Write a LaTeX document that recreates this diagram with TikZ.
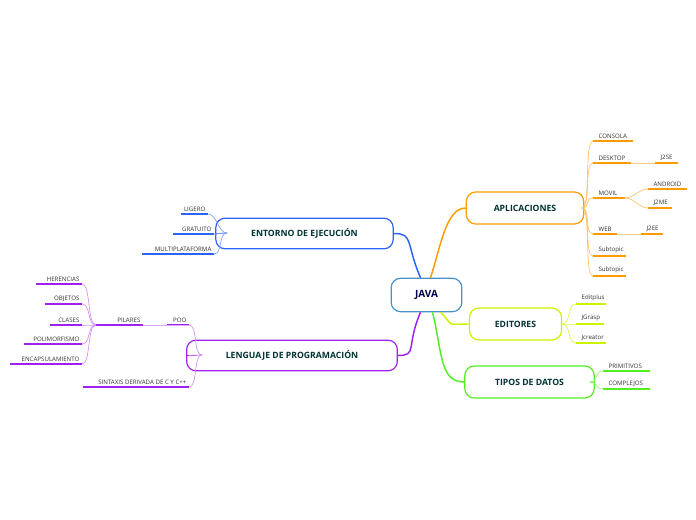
\documentclass[tikz,border=0pt]{standalone}
\usepackage{fontspec}
\setmainfont{Open Sans}
\begin{document}
\begin{tikzpicture}[x=0.75pt,y=-0.75pt,
  topic/.style={draw,rounded corners=7pt,line width=0.9pt,fill=white,text=teal!40!black,font=\bfseries\fontsize{6.5}{7}\selectfont,inner sep=0pt},
  lt/.style={font=\fontsize{4.6}{5}\selectfont,text=black!80,inner sep=1pt},
  ul/.style={line width=1.3pt},
  thin/.style={line width=0.5pt},
  main/.style={line width=1.1pt}]
\useasboundingbox (0,0) rectangle (696,520);
\definecolor{cor}{HTML}{FF9A00}
\definecolor{cye}{HTML}{CCF200}
\definecolor{cgr}{HTML}{55EE22}
\definecolor{cbl}{HTML}{2E62F5}
\definecolor{cpu}{HTML}{A020F0}
\definecolor{cja}{HTML}{4A90C8}
% leaf macros: name, x1, x2, y, text, colour
\newcommand\leafR[6]{\coordinate (#1a) at (#2,#4);\coordinate (#1b) at (#3,#4);
 \draw[ul,#6] (#1a)--(#1b);\node[lt,anchor=south west] (#1) at (#2+4,#4-1) {#5};}
\newcommand\leafL[6]{\coordinate (#1a) at (#2,#4);\coordinate (#1b) at (#3,#4);
 \draw[ul,#6] (#1a)--(#1b);\node[lt,anchor=south east] (#1) at (#3-1,#4-1) {#5};}
\newcommand\con[3]{\draw[thin,#3] (#1) .. controls +(9,0) and +(-9,0) .. (#2);}
\newcommand\conL[3]{\draw[thin,#3] (#1) .. controls +(-9,0) and +(9,0) .. (#2);}

\node[topic,draw=cja,minimum width=53,minimum height=25,text=blue!30!black,font=\bfseries\fontsize{7.5}{8}\selectfont] (java) at (426.5,295) {JAVA};
\node[topic,draw=cor,minimum width=88,minimum height=24] (apl) at (525,208) {APLICACIONES};
\node[topic,draw=cye,minimum width=69,minimum height=24] (edi) at (515.5,324) {EDITORES};
\node[topic,draw=cgr,minimum width=97,minimum height=24] (tip) at (529.5,382) {TIPOS DE DATOS};
\node[topic,draw=cbl,minimum width=133,minimum height=23] (ent) at (304.5,233.5) {ENTORNO DE EJECUCIÓN};
\node[topic,draw=cpu,minimum width=158,minimum height=23] (len) at (292,355.5) {LENGUAJE DE PROGRAMACIÓN};

\draw[main,cor] (java.north)++(4,0) .. controls +(10,-30) and +(-20,0) .. (apl.west);
\draw[main,cye] (java.south)++(14,0) .. controls +(15,15) and +(-25,0) .. (edi.west);
\draw[main,cgr] (java.south)++(6,0) .. controls +(10,40) and +(-25,0) .. (tip.west);
\draw[main,cbl] (java.north)++(-6,0) .. controls +(-15,-35) and +(20,0) .. (ent.east);
\draw[main,cpu] (java.south)++(-6,0) .. controls +(-15,35) and +(20,0) .. (len.east);

% APLICACIONES
\coordinate (ap) at (582,208);
\draw[thin,cor] (apl.east)--(ap);
\leafR{consola}{593}{633}{141}{CONSOLA}{cor}
\leafR{desk}{593}{631}{163}{DESKTOP}{cor}
\leafR{j2se}{655}{678}{163}{J2SE}{cor}
\leafR{movil}{593}{625}{198}{MOVIL}{cor}
\leafR{android}{648}{687}{189}{ANDROID}{cor}
\leafR{j2me}{648}{672}{208}{J2ME}{cor}
\leafR{web}{593}{617}{234}{WEB}{cor}
\leafR{j2ee}{641}{663}{234}{J2EE}{cor}
\leafR{sub1}{593}{626}{256}{Subtopic}{cor}
\leafR{sub2}{593}{626}{276}{Subtopic}{cor}
\foreach \n in {consola,desk,movil,web,sub1,sub2} {\con{ap}{\n a}{cor!60}}
\draw[thin,cor!50] (deskb)--(j2sea);
\draw[thin,cor!50] (webb)--(j2eea);
\con{movilb}{androida}{cor!60}
\con{movilb}{j2mea}{cor!60}

% EDITORES
\coordinate (ep) at (562,324);
\draw[thin,cye] (edi.east)--(ep);
\leafR{editplus}{576}{606}{304}{Editplus}{cye}
\leafR{jgrasp}{576}{604}{324}{JGrasp}{cye}
\leafR{jcreator}{576}{606}{343}{Jcreator}{cye}
\foreach \n in {editplus,jgrasp,jcreator} {\con{ep}{\n a}{cye!70}}

% TIPOS
\coordinate (tp) at (590,382);
\draw[thin,cgr] (tip.east)--(tp);
\leafR{prim}{603}{650}{371}{PRIMITIVOS}{cgr}
\leafR{comp}{603}{650}{389}{COMPLEJOS}{cgr}
\foreach \n in {prim,comp} {\con{tp}{\n a}{cgr!60}}

% ENTORNO
\coordinate (enp) at (227,233);
\draw[thin,cbl] (ent.west)--(enp);
\leafL{ligero}{181}{208}{214}{LIGERO}{cbl}
\leafL{grat}{173}{214}{234}{GRATUITO}{cbl}
\leafL{multi}{142}{214}{254}{MULTIPLATAFORMA}{cbl}
\foreach \n in {ligero,grat,multi} {\conL{enp}{\n b}{cbl!60}}

% LENGUAJE
\coordinate (lp) at (202,355);
\draw[thin,cpu] (len.west)--(lp);
\leafL{poo}{167}{189}{325}{POO}{cpu}
\leafL{sint}{83}{189}{387}{SINTAXIS DERIVADA DE C Y C++}{cpu}
\leafL{pil}{96}{143}{325}{PILARES}{cpu}
\foreach \n in {poo,sint} {\conL{lp}{\n b}{cpu!50}}
\draw[thin,cpu!40] (poob)--(pilb);
\leafL{her}{36}{82}{284}{HERENCIAS}{cpu}
\leafL{obj}{45}{82}{304}{OBJETOS}{cpu}
\leafL{cla}{50}{82}{325}{CLASES}{cpu}
\leafL{pol}{24}{82}{344}{POLIMORFISMO}{cpu}
\leafL{enc}{10}{82}{364}{ENCAPSULAMIENTO}{cpu}
\foreach \n in {her,obj,cla,pol,enc} {\conL{pila}{\n b}{cpu!50}}
\end{tikzpicture}
\end{document}
